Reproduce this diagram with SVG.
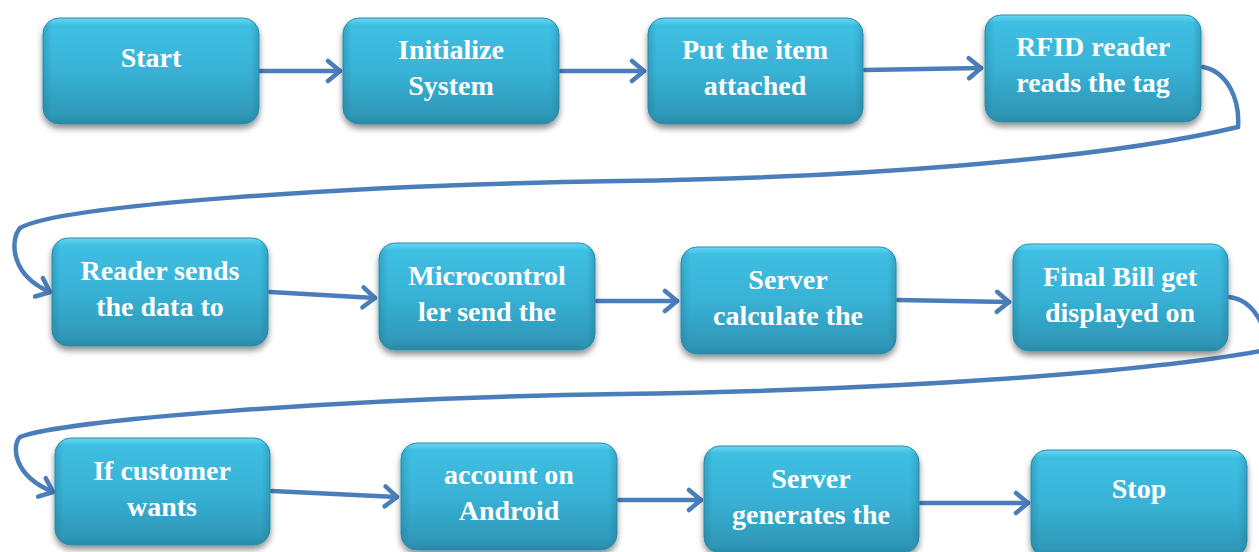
<svg xmlns="http://www.w3.org/2000/svg" width="1259" height="552" viewBox="0 0 1259 552">
<defs>
<style>
.box{fill:url(#g);stroke:#2b8fae;stroke-width:1;filter:url(#sh)}
.hl{fill:url(#h)}
.t{font-family:"Liberation Serif","Times New Roman",serif;font-weight:bold;font-size:28px;fill:#fff;text-anchor:middle}
.c{fill:none;stroke:#4a7ebb;stroke-width:4.5;stroke-linecap:round}
</style>
<linearGradient id="g" x1="0" y1="0" x2="0" y2="1">
<stop offset="0" stop-color="#66d8f2"/>
<stop offset="0.07" stop-color="#3ebfe3"/>
<stop offset="0.5" stop-color="#38b2d6"/>
<stop offset="0.92" stop-color="#2f98b8"/>
<stop offset="1" stop-color="#2a88a6"/>
</linearGradient>
<linearGradient id="h" x1="0" y1="0" x2="1" y2="0">
<stop offset="0" stop-color="#1f7590" stop-opacity="0.35"/>
<stop offset="0.04" stop-color="#1f7590" stop-opacity="0"/>
<stop offset="0.96" stop-color="#1f7590" stop-opacity="0"/>
<stop offset="1" stop-color="#1f7590" stop-opacity="0.35"/>
</linearGradient>
<filter id="sh" x="-10%" y="-10%" width="120%" height="130%">
<feGaussianBlur in="SourceAlpha" stdDeviation="3"/>
<feOffset dx="0" dy="4" result="b"/>
<feComponentTransfer><feFuncA type="linear" slope="0.45"/></feComponentTransfer>
<feMerge><feMergeNode/><feMergeNode in="SourceGraphic"/></feMerge>
</filter>
<marker id="a" viewBox="-15 -13 18 26" markerWidth="18" markerHeight="26" refX="0" refY="0" orient="auto" markerUnits="userSpaceOnUse">
<path d="M-12,-10 L0,0 L-12,10" fill="none" stroke="#4a7ebb" stroke-width="4.5" stroke-linecap="round" stroke-linejoin="round"/>
</marker>
</defs>
<rect width="1259" height="552" fill="#fff"/>
<g id="connectors">
<path class="c" d="M260,71 L340,71" marker-end="url(#a)"/>
<path class="c" d="M561,71 L644,71" marker-end="url(#a)"/>
<path class="c" d="M865,70 L981,68" marker-end="url(#a)"/>
<path class="c" d="M1203,67 C1228,72 1240,100 1238,127 C1100,160 850,178 620,181 C350,185 60,205 20,228 C10,240 10,275 50,292" marker-end="url(#a)"/>
<path class="c" d="M270,292 L375,298" marker-end="url(#a)"/>
<path class="c" d="M597,301 L677,301" marker-end="url(#a)"/>
<path class="c" d="M898,300 L1009,302" marker-end="url(#a)"/>
<path class="c" d="M1229,297 C1255,300 1268,330 1266,350 C1150,372 900,390 620,394 C350,398 60,420 20,437 C12,445 12,475 53,492" marker-end="url(#a)"/>
<path class="c" d="M272,491 L397,497" marker-end="url(#a)"/>
<path class="c" d="M619,500 L701,500" marker-end="url(#a)"/>
<path class="c" d="M921,503 L1028,503" marker-end="url(#a)"/>
</g>
<g id="n1"><rect class="box" x="43" y="18" width="216" height="106" rx="16"/><rect class="hl" x="43" y="18" width="216" height="106" rx="16"/><text class="t" x="151" y="67">Start</text></g>
<g id="n2"><rect class="box" x="343" y="18" width="216" height="106" rx="16"/><rect class="hl" x="343" y="18" width="216" height="106" rx="16"/><text class="t" x="451" y="59">Initialize</text><text class="t" x="451" y="95">System</text></g>
<g id="n3"><rect class="box" x="648" y="18" width="215" height="106" rx="16"/><rect class="hl" x="648" y="18" width="215" height="106" rx="16"/><text class="t" x="755" y="59">Put the item</text><text class="t" x="755" y="95">attached</text></g>
<g id="n4"><rect class="box" x="985" y="15" width="216" height="107" rx="16"/><rect class="hl" x="985" y="15" width="216" height="107" rx="16"/><text class="t" x="1093" y="56">RFID reader</text><text class="t" x="1093" y="92">reads the tag</text></g>
<g id="n5"><rect class="box" x="52" y="238" width="216" height="108" rx="16"/><rect class="hl" x="52" y="238" width="216" height="108" rx="16"/><text class="t" x="160" y="280">Reader sends</text><text class="t" x="160" y="316">the data to</text></g>
<g id="n6"><rect class="box" x="379" y="243" width="216" height="107" rx="16"/><rect class="hl" x="379" y="243" width="216" height="107" rx="16"/><text class="t" x="487" y="285">Microcontrol</text><text class="t" x="487" y="321">ler send the</text></g>
<g id="n7"><rect class="box" x="681" y="247" width="215" height="107" rx="16"/><rect class="hl" x="681" y="247" width="215" height="107" rx="16"/><text class="t" x="788" y="289">Server</text><text class="t" x="788" y="325">calculate the</text></g>
<g id="n8"><rect class="box" x="1013" y="244" width="215" height="107" rx="16"/><rect class="hl" x="1013" y="244" width="215" height="107" rx="16"/><text class="t" x="1120" y="286">Final Bill get</text><text class="t" x="1120" y="322">displayed on</text></g>
<g id="n9"><rect class="box" x="55" y="438" width="215" height="107" rx="16"/><rect class="hl" x="55" y="438" width="215" height="107" rx="16"/><text class="t" x="162" y="480">If customer</text><text class="t" x="162" y="516">wants</text></g>
<g id="n10"><rect class="box" x="401" y="443" width="216" height="107" rx="16"/><rect class="hl" x="401" y="443" width="216" height="107" rx="16"/><text class="t" x="509" y="484">account on</text><text class="t" x="509" y="520">Android</text></g>
<g id="n11"><rect class="box" x="704" y="446" width="215" height="107" rx="16"/><rect class="hl" x="704" y="446" width="215" height="107" rx="16"/><text class="t" x="811" y="488">Server</text><text class="t" x="811" y="524">generates the</text></g>
<g id="n12"><rect class="box" x="1031" y="450" width="216" height="107" rx="16"/><rect class="hl" x="1031" y="450" width="216" height="107" rx="16"/><text class="t" x="1139" y="498">Stop</text></g>
</svg>
